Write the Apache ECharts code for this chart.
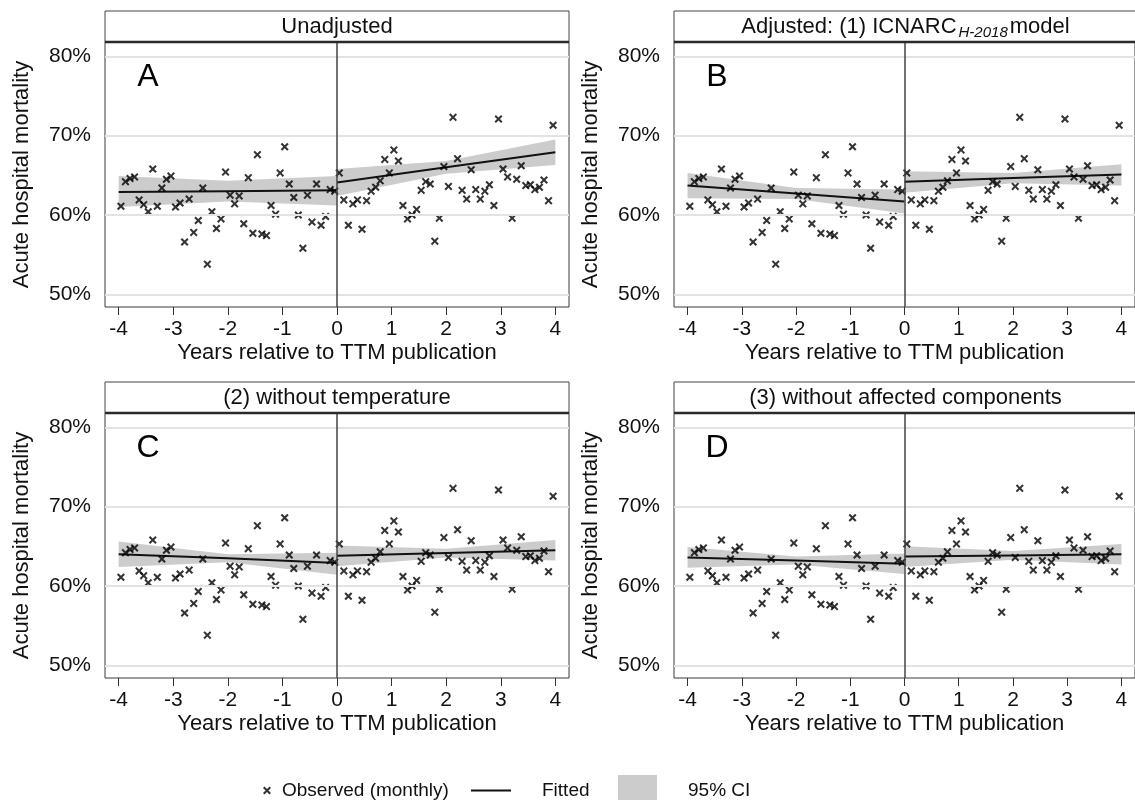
<!DOCTYPE html>
<html>
<head>
<meta charset="utf-8">
<script src="https://cdn.jsdelivr.net/npm/echarts@6/dist/echarts.min.js"></script>
<style>html,body{margin:0;padding:0;background:#fff}#c{width:1135px;height:800px}</style>
</head>
<body>
<div id="c"></div>
<script>
// Observed monthly acute hospital mortality (%), 96 months from -4 to +4 years (same in all panels)
const observed = [61.1, 64.2, 64.6, 64.8, 61.9, 61.3, 60.4, 65.8, 61.1, 63.4,
  64.5, 64.9, 61.0, 61.5, 56.6, 62.0, 57.8, 59.3, 63.4, 53.8,
  60.4, 58.3, 59.5, 65.4, 62.5, 61.4, 62.4, 58.9, 64.7, 57.7,
  67.6, 57.6, 57.4, 61.2, 60.1, 65.3, 68.6, 63.9, 62.2, 60.0,
  55.8, 62.5, 59.1, 63.9, 58.7, 59.8, 63.2, 63.0,
  65.3, 61.9, 58.7, 61.4, 61.9, 58.2, 61.8, 63.0, 63.5, 64.3,
  67.0, 65.3, 68.2, 66.8, 61.2, 59.5, 60.0, 60.7, 63.1, 64.2,
  63.9, 56.7, 59.6, 66.1, 63.6, 72.3, 67.1, 63.1, 62.0, 65.7,
  63.2, 62.0, 63.0, 63.8, 61.2, 72.1, 65.8, 64.8, 59.6, 64.5,
  66.2, 63.7, 63.8, 63.2, 63.5, 64.4, 61.8, 71.3];

const xTicks = [-4, -3, -2, -1, 0, 1, 2, 3, 4];
const yTicks = [50, 60, 70, 80];
const panelTitles = ['Unadjusted', 'Adjusted: (1) ICNARC', '(2) without temperature', '(3) without affected components'];
const panelLetters = ['A', 'B', 'C', 'D'];

// fitted lines and 95% CI (before: x=-4,-2,0 ; after: x=0,2,4)
const xBefore = [-4, -2, 0];
const xAfter = [0, 2, 4];

const fitA_before = [62.9, 63.0, 63.1];
const loA_before = [61.0, 61.7, 61.2];
const hiA_before = [64.9, 64.3, 64.9];
const fitA_after = [64.1, 66.0, 67.9];
const loA_after = [62.4, 65.2, 66.3];
const hiA_after = [65.8, 66.8, 69.5];

const fitB_before = [63.7, 62.7, 61.7];
const loB_before = [62.1, 62.0, 60.2];
const hiB_before = [65.3, 63.4, 63.2];
const fitB_after = [64.2, 64.65, 65.1];
const loB_after = [62.8, 64.0, 63.7];
const hiB_after = [65.5, 65.3, 66.4];

const fitC_before = [64.0, 63.5, 62.9];
const loC_before = [62.4, 63.0, 61.4];
const hiC_before = [65.6, 64.0, 64.2];
const fitC_after = [63.8, 64.15, 64.5];
const loC_after = [62.5, 63.6, 63.2];
const hiC_after = [65.1, 64.7, 65.8];

const fitD_before = [63.6, 63.2, 62.8];
const loD_before = [62.3, 62.7, 61.5];
const hiD_before = [64.9, 63.7, 64.1];
const fitD_after = [63.7, 63.85, 64.0];
const loD_after = [62.4, 63.3, 62.7];
const hiD_after = [65.0, 64.4, 65.3];

const FONT = '"Liberation Sans", Arial, Helvetica, sans-serif';
const crossPath = 'path://M0,1.8L1.8,0L5,3.2L8.2,0L10,1.8L6.8,5L10,8.2L8.2,10L5,6.8L1.8,10L0,8.2L3.2,5Z';

const panels = [
  {fb: fitA_before, lb: loA_before, hb: hiA_before, fa: fitA_after, la: loA_after, ha: hiA_after},
  {fb: fitB_before, lb: loB_before, hb: hiB_before, fa: fitB_after, la: loB_after, ha: hiB_after},
  {fb: fitC_before, lb: loC_before, hb: hiC_before, fa: fitC_after, la: loC_after, ha: hiC_after},
  {fb: fitD_before, lb: loD_before, hb: hiD_before, fa: fitD_after, la: loD_after, ha: hiD_after}
];

const gridBoxes = [
  {left: 105, top: 42, width: 464, height: 265},
  {left: 674, top: 42, width: 463, height: 265},
  {left: 105, top: 413, width: 464, height: 265},
  {left: 674, top: 413, width: 463, height: 265}
];

const monthX = observed.map((_, i) => -4 + (i + 0.5) / 12);

const grids = [], xAxes = [], yAxes = [], series = [], graphics = [];

gridBoxes.forEach((g, p) => {
  grids.push({left: g.left, top: g.top, width: g.width, height: g.height, show: true,
    borderColor: '#3a3a3a', borderWidth: 1, backgroundColor: 'transparent'});
  xAxes.push({
    type: 'value', gridIndex: p, min: -4.25, max: 4.25,
    name: 'Years relative to TTM publication', nameLocation: 'middle', nameGap: 35,
    nameTextStyle: {fontFamily: FONT, fontSize: 22, color: '#111'},
    axisLine: {show: false},
    axisTick: {show: true, length: 8, customValues: xTicks, lineStyle: {color: '#333', width: 1}},
    axisLabel: {customValues: xTicks, margin: 12, fontFamily: FONT, fontSize: 21, color: '#111',
      formatter: v => String(v)},
    splitLine: {show: false}
  });
  yAxes.push({
    type: 'value', gridIndex: p, min: 48.4, max: 81.8,
    name: 'Acute hospital mortality', nameLocation: 'middle', nameGap: 72, nameRotate: 90,
    nameTextStyle: {fontFamily: FONT, fontSize: 22, color: '#111'},
    axisLine: {show: false},
    axisTick: {show: true, length: 8, customValues: yTicks, lineStyle: {color: '#333', width: 1}},
    axisLabel: {customValues: yTicks, margin: 14, fontFamily: FONT, fontSize: 21, color: '#111',
      formatter: v => v + '%'},
    splitLine: {show: false}
  });

  // gridlines + zero line
  series.push({
    type: 'line', xAxisIndex: p, yAxisIndex: p, data: [], silent: true, z: 1,
    markLine: {
      silent: true, symbol: ['none', 'none'], label: {show: false}, animation: false,
      data: yTicks.map(v => ({yAxis: v, lineStyle: {color: '#e3e3e3', width: 2, type: 'solid'}}))
    }
  });
  series.push({
    type: 'line', xAxisIndex: p, yAxisIndex: p, data: [], silent: true, z: 5,
    markLine: {
      silent: true, symbol: ['none', 'none'], label: {show: false}, animation: false,
      data: [{xAxis: 0, lineStyle: {color: '#444', width: 1.5, type: 'solid'}}]
    }
  });

  const pd = panels[p];
  const band = [];
  xBefore.forEach((x, k) => band.push([x, pd.lb[k], pd.hb[k], 0]));
  xAfter.forEach((x, k) => band.push([x, pd.la[k], pd.ha[k], 1]));
  series.push({
    name: '95% CI', type: 'custom', xAxisIndex: p, yAxisIndex: p, z: 2, silent: true,
    itemStyle: {color: '#cccccc'},
    encode: {x: 0, y: [1, 2]},
    data: band,
    renderItem: (params, api) => {
      const i = params.dataIndex;
      const seg = band[i][3];
      if (i > 0 && band[i - 1][3] === seg) return null;
      const pts = band.filter(d => d[3] === seg);
      const upper = pts.map(d => api.coord([d[0], d[2]]));
      const lower = pts.map(d => api.coord([d[0], d[1]])).reverse();
      return {type: 'polygon', shape: {points: upper.concat(lower)}, style: {fill: '#cccccc'}};
    }
  });
  series.push({
    name: 'Fitted', type: 'line', xAxisIndex: p, yAxisIndex: p, z: 3, symbol: 'none',
    lineStyle: {color: '#111', width: 2}, itemStyle: {color: '#111'},
    data: xBefore.map((x, k) => [x, pd.fb[k]])
  });
  series.push({
    name: 'Fitted', type: 'line', xAxisIndex: p, yAxisIndex: p, z: 3, symbol: 'none',
    lineStyle: {color: '#111', width: 2}, itemStyle: {color: '#111'},
    data: xAfter.map((x, k) => [x, pd.fa[k]])
  });
  series.push({
    name: 'Observed (monthly)', type: 'scatter', xAxisIndex: p, yAxisIndex: p, z: 4,
    symbol: crossPath, symbolSize: 8, itemStyle: {color: '#000'},
    data: observed.map((v, i) => [monthX[i], v])
  });

  // strip
  const stripTop = g.top - 31;
  graphics.push({type: 'rect', shape: {x: g.left, y: stripTop, width: g.width, height: 31},
    style: {fill: '#fff', stroke: '#444', lineWidth: 1}, z: 10});
  graphics.push({type: 'line', shape: {x1: g.left, y1: g.top, x2: g.left + g.width, y2: g.top},
    style: {stroke: '#2a2a2a', lineWidth: 2.5}, z: 11});
  const titleText = p === 1
    ? '{n|' + panelTitles[p] + '}{s|H-2018}{n|model}'
    : '{n|' + panelTitles[p] + '}';
  graphics.push({type: 'text', x: g.left + g.width / 2, y: stripTop + 16, z: 12,
    style: {text: titleText, align: 'center', verticalAlign: 'middle', fill: '#111',
      fontFamily: FONT, fontSize: 22,
      rich: {
        n: {fontFamily: FONT, fontSize: 22, fill: '#111', lineHeight: 26},
        s: {fontFamily: FONT, fontSize: 15, fontStyle: 'italic', fill: '#111', lineHeight: 26, padding: [11, 2, 0, 2]}
      }}});
  graphics.push({type: 'text', x: g.left + 43, y: g.top + 35, z: 12,
    style: {text: panelLetters[p], align: 'center', verticalAlign: 'middle', fill: '#000',
      fontFamily: FONT, fontSize: 32}});
});

const chart = echarts.init(document.getElementById('c'), null, {renderer: 'canvas'});
chart.setOption({
  animation: false,
  backgroundColor: '#fff',
  grid: grids, xAxis: xAxes, yAxis: yAxes, series: series,
  legend: [
    {data: [{name: 'Observed (monthly)', icon: crossPath}], left: 258, top: 776, itemWidth: 8, itemHeight: 8,
      selectedMode: false, textStyle: {fontFamily: FONT, fontSize: 19, color: '#111', padding: [0, 0, 0, 6]}},
    {data: [{name: 'Fitted', icon: 'rect'}], left: 466, top: 776, itemWidth: 40, itemHeight: 2,
      selectedMode: false, itemStyle: {color: '#111'},
      textStyle: {fontFamily: FONT, fontSize: 19, color: '#111', padding: [0, 0, 0, 26]}},
    {data: [{name: '95% CI', icon: 'rect'}], left: 613, top: 770, itemWidth: 39, itemHeight: 32,
      selectedMode: false, itemStyle: {color: '#cccccc'},
      textStyle: {fontFamily: FONT, fontSize: 19, color: '#111', padding: [0, 0, 0, 26]}}
  ],
  graphic: graphics
});
</script>
</body>
</html>
